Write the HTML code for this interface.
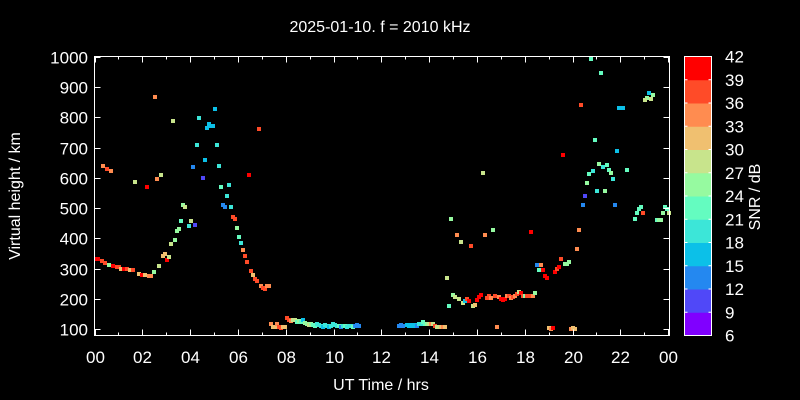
<!DOCTYPE html>
<html><head><meta charset="utf-8"><style>
html,body{margin:0;padding:0;background:#000;}
svg{display:block;font-family:"Liberation Sans",sans-serif;}
</style></head><body>
<svg id="s" width="800" height="400" xmlns="http://www.w3.org/2000/svg">
<rect width="800" height="400" fill="#000"/>
<text x="380" y="32" fill="#fff" font-size="16" text-anchor="middle">2025-01-10. f = 2010 kHz</text>
<text x="381" y="390" fill="#fff" font-size="16" text-anchor="middle">UT Time / hrs</text>
<text transform="translate(20,196) rotate(-90)" fill="#fff" font-size="16" text-anchor="middle">Virtual height / km</text>
<text transform="translate(760,197) rotate(-90)" fill="#fff" font-size="16" text-anchor="middle">SNR / dB</text>
<g id="pts"></g>
<g id="ax" stroke="#fff" stroke-width="1" fill="none"></g>
<g id="lbl" fill="#fff" font-size="17"></g>
</svg>
<script>
var C=["#8000ff","#5048f8","#2488f0","#0cc0e8","#3ce6d8","#64fcc0","#96faa0","#c8e48c","#f0c070","#ff8c50","#ff4b28","#ff0000"];
var P=[[96,259,11],[98,259,11],[102,261,10],[105,263,10],[109,265,6],[113,266,11],[117,267,10],[119,267,10],[121,269,8],[124,269,11],[127,269,10],[130,270,8],[133,270,10],[139,274,8],[142,275,11],[145,275,8],[149,276,9],[151,276,9],[154,272,6],[159,266,7],[163,256,8],[165,254,8],[167,260,11],[169,257,7],[171,244,7],[175,240,6],[177,231,6],[179,229,6],[181,221,5],[183,205,6],[185,207,7],[189,226,4],[191,221,7],[195,225,1],
[103,166,9],[107,169,10],[111,171,9],[135,182,7],[147,187,11],[155,97,9],[157,179,9],[161,175,7],[173,121,7],[193,167,2],[197,145,4],[199,118,4],[203,178,1],[205,160,3],[207,128,3],[209,124,3],[211,126,3],[213,126,3],[215,109,3],[217,145,4],[219,166,4],[221,187,5],[223,205,2],[225,207,2],[227,196,4],[229,185,4],[231,207,4],[233,217,10],[235,219,10],[237,228,6],[239,237,5],[241,243,4],[243,250,9],[245,256,10],[247,262,10],[249,175,11],[251,271,10],[253,275,8],[255,279,10],[257,281,10],[259,129,10],[261,286,9],[263,288,10],[265,289,10],[267,286,9],[269,286,9],
[271,324,9],[273,327,8],[275,327,8],[277,324,9],[279,327,10],[281,328,10],[283,327,8],[285,327,8],[287,318,10],[289,320,10],[291,321,9],[293,320,7],[295,320,7],[297,322,5],[299,321,6],[301,322,5],[303,320,3],[305,323,6],[307,324,6],[309,325,7],[311,324,6],[313,325,5],[315,326,5],[317,324,4],[319,325,4],[321,326,4],[323,327,3],[325,325,4],[327,326,4],[329,327,3],[331,326,4],[333,324,4],[335,325,4],[337,326,4],[339,326,5],[341,327,2],[343,326,4],[345,326,5],[347,327,4],[349,326,4],[351,326,4],[353,327,5],[355,326,2],[357,325,2],[359,326,2],
[399,326,2],[401,325,2],[403,326,2],[407,325,3],[409,326,3],[411,325,3],[413,326,3],[415,325,3],[417,326,2],[419,324,4],[421,324,4],[423,322,5],[425,324,5],[427,324,6],[429,324,7],[431,324,9],[433,324,7],[435,326,10],[437,327,7],[439,327,7],[441,327,8],[443,327,9],[445,327,8],[449,306,5],
[483,173,7],[451,219,6],[457,235,9],[461,242,7],[485,235,9],[493,230,6],[471,246,10],[531,232,11],[579,230,9],[577,249,9],[447,278,7],[453,295,6],[455,297,7],[459,299,7],[463,303,7],[465,301,3],[467,299,10],[469,301,11],[473,306,7],[475,305,8],[449,306,5],[477,300,11],[479,297,11],[481,295,11],[487,298,10],[489,296,10],[491,298,9],[495,296,10],[499,297,9],[501,299,11],[503,300,11],[505,299,11],[507,296,9],[509,296,10],[511,298,9],[513,297,10],[515,296,9],[517,294,10],[519,292,7],[521,293,11],[523,296,10],[525,296,6],[527,296,10],[529,296,10],[533,296,9],[535,293,6],[537,265,2],[541,265,9],[539,270,5],[543,270,11],[545,276,11],[547,278,11],[555,272,11],[557,269,10],[559,267,11],[561,259,10],[565,264,6],[567,264,6],[569,262,6],[497,327,9],[549,328,8],[551,329,9],[553,328,11],[571,329,9],[573,328,8],[575,329,8],
[591,59,5],[601,73,5],[649,93,3],[647,98,6],[645,100,7],[651,99,7],[653,95,6],[581,105,10],[619,108,3],[623,108,3],[595,140,5],[617,151,3],[563,155,11],[599,164,6],[607,165,5],[603,167,4],[609,170,5],[611,173,6],[593,171,4],[589,174,5],[627,170,5],[613,179,4],[587,183,6],[597,191,4],[605,191,6],[585,196,1],[583,205,2],[615,205,2],[641,207,5],[639,209,5],[637,213,5],[643,213,10],[635,219,5],[665,207,5],[667,209,5],[663,213,6],[669,213,7],[657,220,5],[661,220,6],[659,220,6]];
var ns="http://www.w3.org/2000/svg",g=document.getElementById("pts"),ax=document.getElementById("ax"),lb=document.getElementById("lbl");
function el(p,t,a){var e=document.createElementNS(ns,t);for(var k in a)e.setAttribute(k,a[k]);p.appendChild(e);return e;}
P.forEach(function(p){el(g,"rect",{x:p[0]-2,y:p[1]-2,width:4,height:4,fill:C[p[2]]});});
var L=94.5,R=669.5,T=56.5,B=335.5;
el(ax,"rect",{x:L,y:T,width:R-L,height:B-T});
for(var h=0;h<=24;h++){var x=L+h*23.9;x=Math.round(x)+0.5;var len=h%2?3:6;
el(ax,"line",{x1:x,y1:B,x2:x,y2:B-len});el(ax,"line",{x1:x,y1:T,x2:x,y2:T+len});
if(h%2==0){var t=el(lb,"text",{x:x,y:363,"text-anchor":"middle"});t.textContent=(h%24<10?"0":"")+(h%24);}}
for(var v=100;v<=1000;v+=100){var y=56.7+(1000-v)*0.3029;y=Math.round(y)+0.5;
el(ax,"line",{x1:L,y1:y,x2:L+6,y2:y});el(ax,"line",{x1:R,y1:y,x2:R-6,y2:y});
var t=el(lb,"text",{x:88,y:y+6,"text-anchor":"end"});t.textContent=v;}
var cx=684.5,cw=27,bh=(B-T)/12;
for(var i=0;i<12;i++){el(g,"rect",{x:cx,y:T+(11-i)*bh,width:cw,height:bh+0.5,fill:C[i]});}
el(ax,"rect",{x:cx,y:T,width:cw,height:B-T});
for(var i=0;i<=12;i++){var y=T+i*bh;el(ax,"line",{x1:cx,y1:y,x2:cx+3,y2:y});el(ax,"line",{x1:cx+cw,y1:y,x2:cx+cw-3,y2:y});
var t=el(lb,"text",{x:725,y:y+6,"text-anchor":"start"});t.textContent=42-3*i;}
</script>
</body></html>
